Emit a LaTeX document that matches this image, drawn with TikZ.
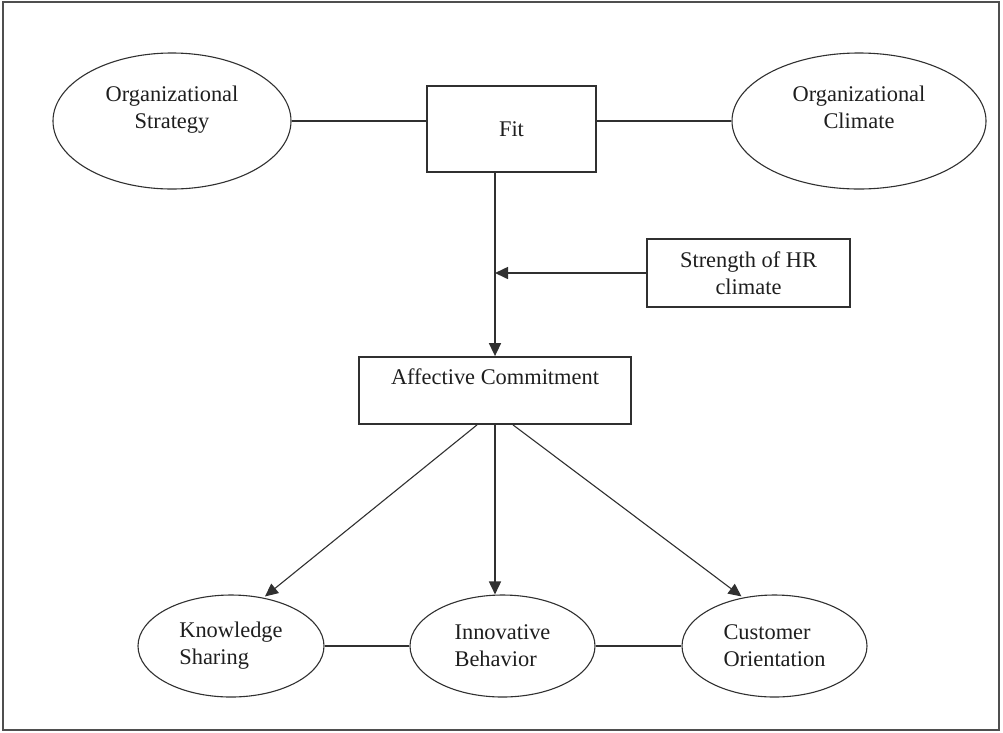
\documentclass[tikz,border=0pt]{standalone}
\usepackage{fontspec}
\setmainfont{Liberation Serif}
\usetikzlibrary{shapes.geometric,arrows.meta,calc}
\definecolor{ink}{HTML}{303030}
\definecolor{txt}{HTML}{1E1E1E}
\tikzset{
  lbl/.style={font=\fontsize{22.4}{27}\selectfont, text=txt},
  oval/.style={ellipse, draw=ink, line width=1.1pt, inner sep=0pt, lbl},
  boxnode/.style={rectangle, draw=ink, line width=1.8pt, inner sep=0pt, lbl, align=center},
  link/.style={draw=ink, line width=1.6pt},
  thin link/.style={draw=ink, line width=1.1pt},
  tip/.style={-{Triangle[width=12pt,length=13pt]}}
}
\begin{document}
\begin{tikzpicture}[x=1pt,y=-1pt]
\useasboundingbox (0,0) rectangle (1003,732);
\draw[draw=ink!85, line width=1.6pt] (3,2) rectangle (999,730);

\node[oval, minimum width=238pt, minimum height=136pt, align=center] (OS) at (172,121) {Organizational\\Strategy\\\mbox{}};
\node[oval, minimum width=254pt, minimum height=136pt, align=center] (OC) at (859,121) {Organizational\\Climate\\\mbox{}};
\node[boxnode, minimum width=169pt, minimum height=86pt] (Fit) at (511.5,129) {Fit};
\node[boxnode, minimum width=203pt, minimum height=68pt] (SH) at (748.5,273) {Strength of HR\\climate};
\node[boxnode, minimum width=272pt, minimum height=67pt] (AC) at (495,390.5) {Affective Commitment\\\mbox{}};
\node[oval, minimum width=186pt, minimum height=102pt, align=left] (KS) at (231,646) {Knowledge\\Sharing};
\node[oval, minimum width=185pt, minimum height=102pt, align=left] (IB) at (502.5,646) {Innovative\\Behavior};
\node[oval, minimum width=185pt, minimum height=102pt, align=left] (CO) at (774.5,646) {Customer\\Orientation};

\draw[link] (OS.east) -- (OS.east -| Fit.west);
\draw[link] (Fit.east |- OC.west) -- (OC.west);
\draw[link, tip] (AC.north |- Fit.south) -- (AC.north);
\draw[link, tip] (SH.west) -- (SH.west -| AC.north);
\draw[thin link, tip] ($(AC.south)+(-18,0)$) -- ($(KS.north)+(34,2)$);
\draw[link, tip] (AC.south) -- (AC.south |- IB.north);
\draw[thin link, tip] ($(AC.south)+(18,0)$) -- ($(CO.north)+(-33,2)$);
\draw[link] (KS.east) -- (IB.west);
\draw[link] (IB.east) -- (CO.west);
\end{tikzpicture}
\end{document}
